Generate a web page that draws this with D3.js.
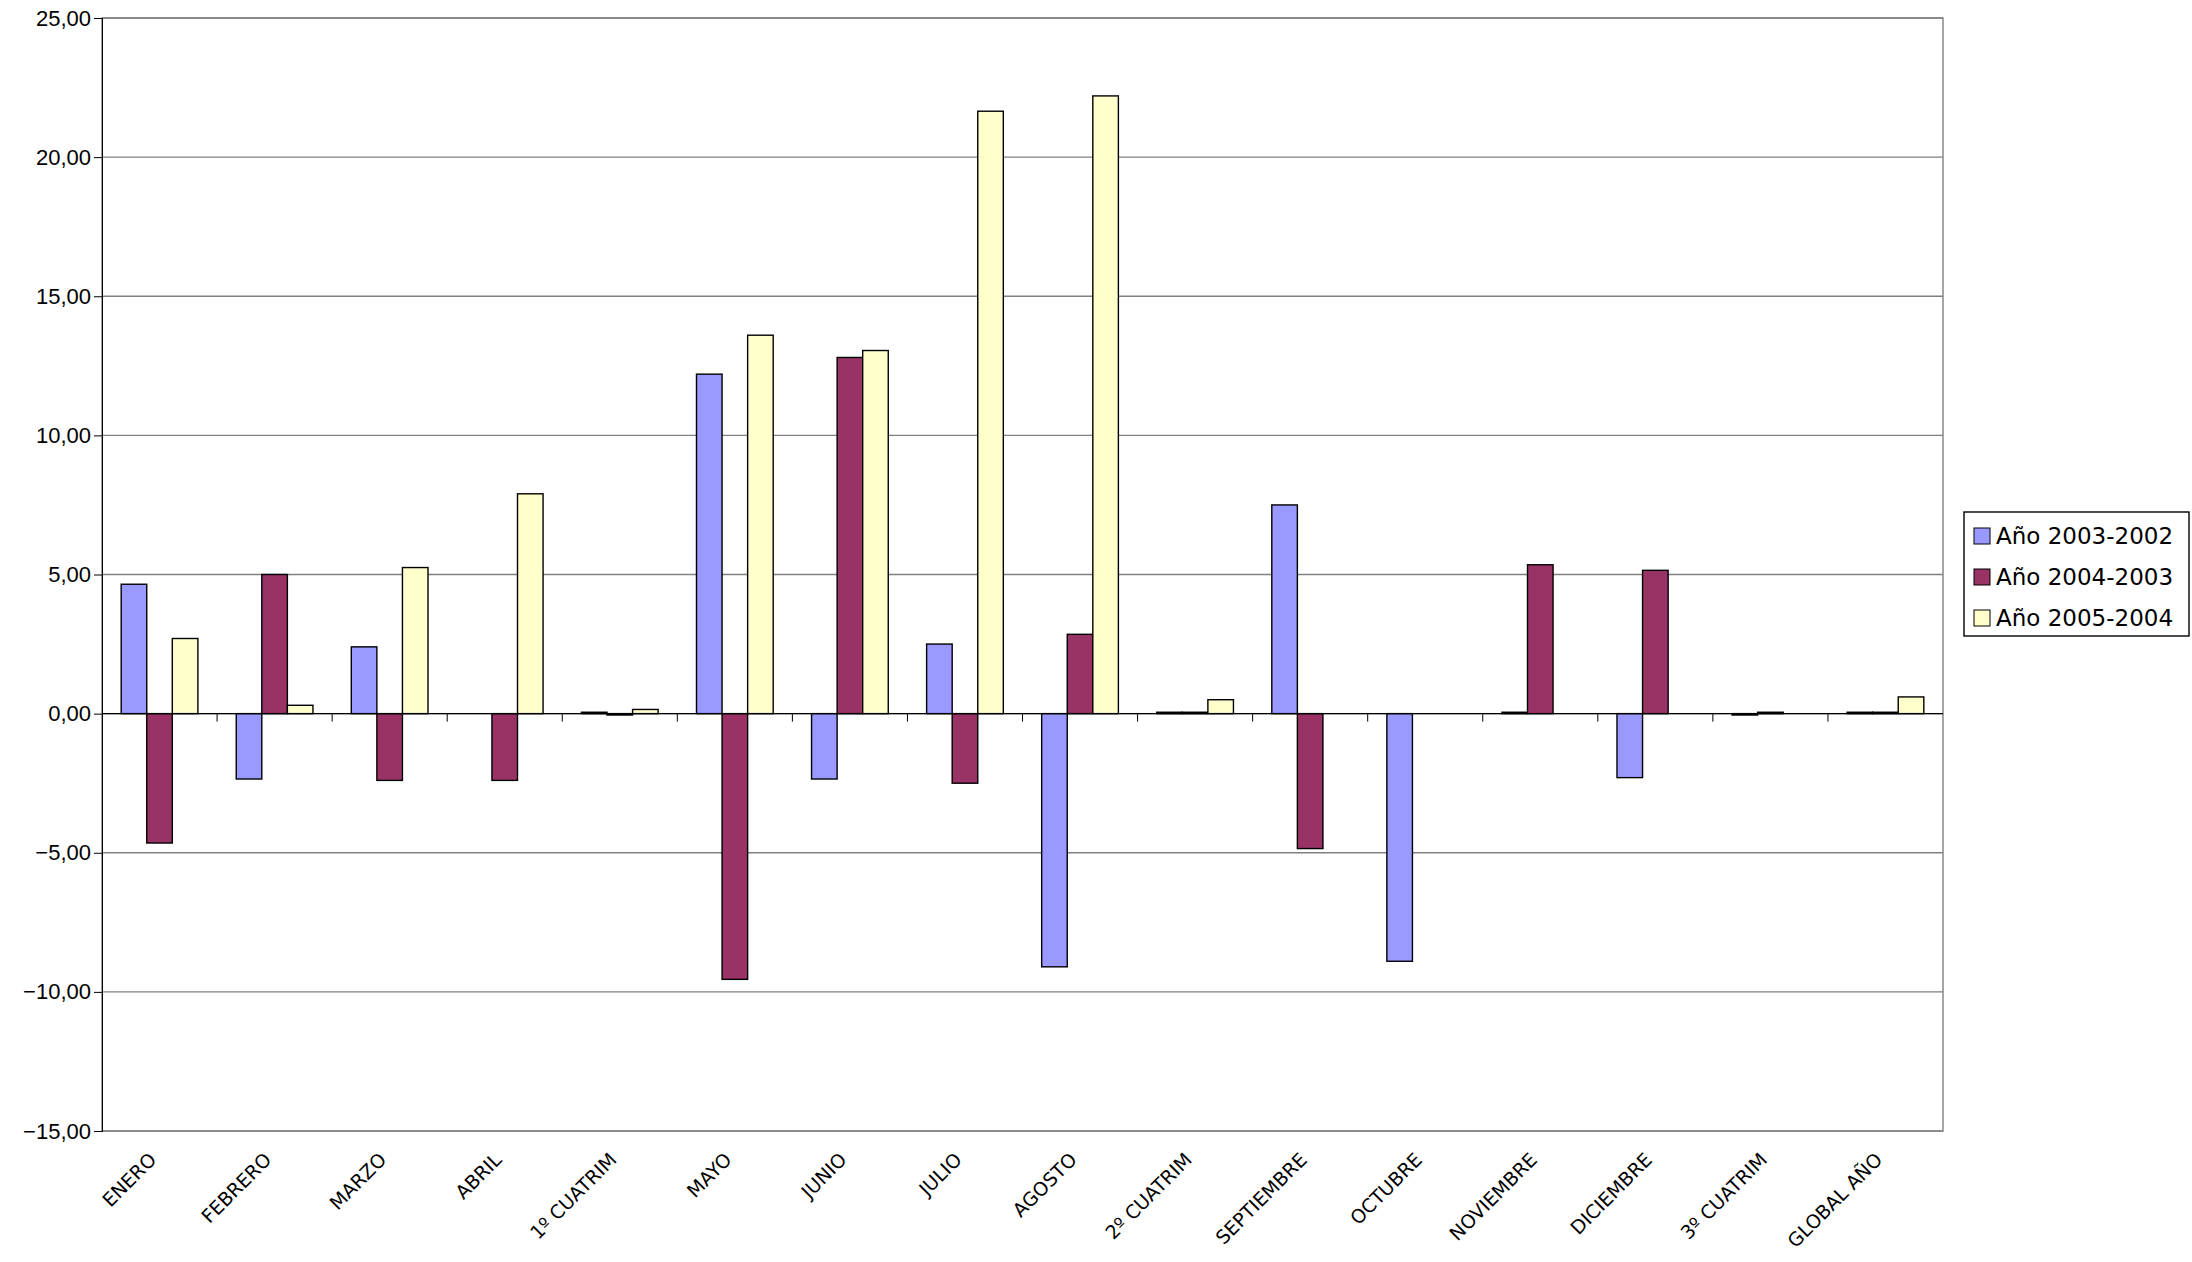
<!DOCTYPE html>
<html><head><meta charset="utf-8">
<script src="https://cdn.jsdelivr.net/npm/d3@7"></script>
<style>body{margin:0;background:#fff}</style>
</head><body>
<script>
const categories = ["ENERO","FEBRERO","MARZO","ABRIL","1º CUATRIM","MAYO","JUNIO","JULIO","AGOSTO","2º CUATRIM","SEPTIEMBRE","OCTUBRE","NOVIEMBRE","DICIEMBRE","3º CUATRIM","GLOBAL AÑO"];
const seriesNames = ["Año 2003-2002","Año 2004-2003","Año 2005-2004"];
const s2003 = [4.65,-2.35,2.4,null,0.05,12.2,-2.35,2.5,-9.1,0.05,7.5,-8.9,0.05,-2.3,-0.05,0.05];
const s2004 = [-4.65,5.0,-2.4,-2.4,-0.05,-9.55,12.8,-2.5,2.85,0.05,-4.85,null,5.35,5.15,0.05,0.05];
const s2005 = [2.7,0.3,5.25,7.9,0.15,13.6,13.05,21.65,22.2,0.5,null,null,null,null,null,0.6];
const colors = ["#9999FF","#993366","#FFFFCC"];
const yTicks = [-15,-10,-5,0,5,10,15,20,25];

const W = 2192, H = 1262;
const m = {left:102, right:1943, top:18, bottom:1131};
const svg = d3.select("body").append("svg").attr("width",W).attr("height",H)
  .attr("font-family","DejaVu Sans, Verdana, sans-serif");

const x = d3.scaleBand().domain(categories).range([m.left,m.right]);
const xs = d3.scaleBand().domain([0,1,2]).range([0,x.bandwidth()]).paddingOuter(0.75);
const y = d3.scaleLinear().domain([-15,25]).range([m.bottom,m.top]);
const fmt = v => d3.format(".2f")(v).replace(".",",");

svg.append("g").selectAll("line").data(yTicks).join("line")
  .attr("x1",m.left).attr("x2",m.right).attr("y1",d=>y(d)).attr("y2",d=>y(d))
  .attr("stroke","#808080").attr("stroke-width",1.4);
svg.append("rect").attr("x",m.left).attr("y",m.top).attr("width",m.right-m.left).attr("height",m.bottom-m.top)
  .attr("fill","none").attr("stroke","#808080").attr("stroke-width",1.4);

const yAxis = svg.append("g").attr("transform",`translate(${m.left},0)`)
  .call(d3.axisLeft(y).tickValues(yTicks).tickFormat(fmt).tickSize(8));
yAxis.select(".domain").attr("stroke","#000");
yAxis.selectAll("text").attr("font-size",22).attr("fill","#000");

const series = [s2003,s2004,s2005];
series.forEach((s,i)=>{
  svg.append("g").selectAll("rect").data(categories.map((c,j)=>({c,v:s[j]})).filter(d=>d.v!==null)).join("rect")
    .attr("x",d=>x(d.c)+xs(i)).attr("width",xs.bandwidth())
    .attr("y",d=>y(Math.max(0,d.v))).attr("height",d=>Math.abs(y(d.v)-y(0)))
    .attr("fill",colors[i]).attr("stroke","#000").attr("stroke-width",1.4);
});

svg.append("line").attr("x1",m.left).attr("x2",m.right).attr("y1",y(0)).attr("y2",y(0)).attr("stroke","#000").attr("stroke-width",1.4);
svg.append("g").selectAll("line").data(categories.slice(1)).join("line")
  .attr("x1",d=>x(d)).attr("x2",d=>x(d)).attr("y1",y(0)).attr("y2",y(0)+8).attr("stroke","#000");

svg.append("g").selectAll("text").data(categories).join("text")
  .attr("transform",d=>`translate(${x(d)+x.bandwidth()/2-2},${m.bottom+30}) rotate(-45)`)
  .attr("text-anchor","end").attr("font-size",19).text(d=>d);

const lg = svg.append("g").attr("transform","translate(1964,512)");
lg.append("rect").attr("width",225).attr("height",124).attr("fill","#fff").attr("stroke","#000").attr("stroke-width",1.4);
seriesNames.forEach((n,i)=>{
  const g = lg.append("g").attr("transform",`translate(10,${25+i*41})`);
  g.append("rect").attr("x",0).attr("y",-9).attr("width",16).attr("height",16).attr("fill",colors[i]).attr("stroke","#000");
  g.append("text").attr("x",22).attr("y",7).attr("font-size",23).text(n);
});
</script>
</body></html>
